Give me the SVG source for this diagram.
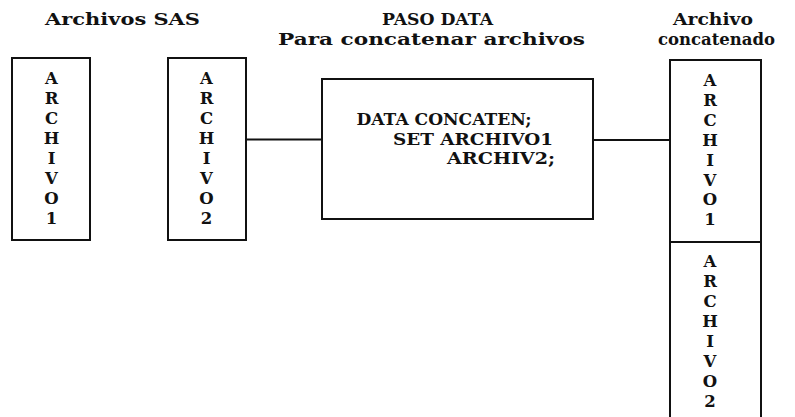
<svg xmlns="http://www.w3.org/2000/svg" width="795" height="417" viewBox="0 0 795 417">
<style>
.box{fill:#fff;stroke:#111;stroke-width:2}
.ln{stroke:#111;stroke-width:2;fill:none}
.t{font-family:"DejaVu Serif","Liberation Serif",serif;font-weight:bold;fill:#111}
.h{font-size:17px}
.v{font-size:16.5px;text-anchor:middle}
.c{font-size:16px}
</style>
<rect width="795" height="417" fill="#fff"/>
<g id="titles" class="t h">
<text x="45" y="25" textLength="155" lengthAdjust="spacingAndGlyphs">Archivos SAS</text>
<text x="382" y="25" textLength="111" lengthAdjust="spacingAndGlyphs">PASO DATA</text>
<text x="278" y="45" textLength="307" lengthAdjust="spacingAndGlyphs">Para concatenar archivos</text>
<text x="673" y="25" textLength="80" lengthAdjust="spacingAndGlyphs">Archivo</text>
<text x="658" y="45" textLength="117" lengthAdjust="spacingAndGlyphs">concatenado</text>
</g>
<g id="connectors">
<line class="ln" x1="246" y1="139.5" x2="322" y2="139.5"/>
<line class="ln" x1="593" y1="140" x2="670" y2="140"/>
</g>
<g id="archivo1" class="t v">
<rect class="box" x="12" y="58" width="78" height="182"/>
<text x="51.5" y="84">A</text><text x="51.5" y="104">R</text><text x="51.5" y="124">C</text><text x="51.5" y="144">H</text><text x="51.5" y="164">I</text><text x="51.5" y="184">V</text><text x="51.5" y="204">O</text><text x="51.5" y="224">1</text>
</g>
<g id="archivo2" class="t v">
<rect class="box" x="168" y="58" width="78" height="182"/>
<text x="206.5" y="84">A</text><text x="206.5" y="104">R</text><text x="206.5" y="124">C</text><text x="206.5" y="144">H</text><text x="206.5" y="164">I</text><text x="206.5" y="184">V</text><text x="206.5" y="204">O</text><text x="206.5" y="224">2</text>
</g>
<g id="paso-data">
<rect class="box" x="322" y="79" width="271" height="140"/>
<text class="t c" x="356.5" y="125" textLength="175" lengthAdjust="spacingAndGlyphs">DATA CONCATEN;</text>
<text class="t c" x="393" y="145" textLength="160" lengthAdjust="spacingAndGlyphs">SET ARCHIVO1</text>
<text class="t c" x="447" y="164" textLength="108" lengthAdjust="spacingAndGlyphs">ARCHIV2;</text>
</g>
<g id="concatenado" class="t v">
<rect class="box" x="670" y="60" width="91" height="182"/>
<rect class="box" x="670" y="242" width="91" height="190"/>
<text x="710" y="86">A</text><text x="710" y="106">R</text><text x="710" y="126">C</text><text x="710" y="146">H</text><text x="710" y="166">I</text><text x="710" y="186">V</text><text x="710" y="205">O</text><text x="710" y="225">1</text>
<text x="710" y="267">A</text><text x="710" y="287">R</text><text x="710" y="307">C</text><text x="710" y="327">H</text><text x="710" y="347">I</text><text x="710" y="367">V</text><text x="710" y="387">O</text><text x="710" y="407">2</text>
</g>
</svg>
